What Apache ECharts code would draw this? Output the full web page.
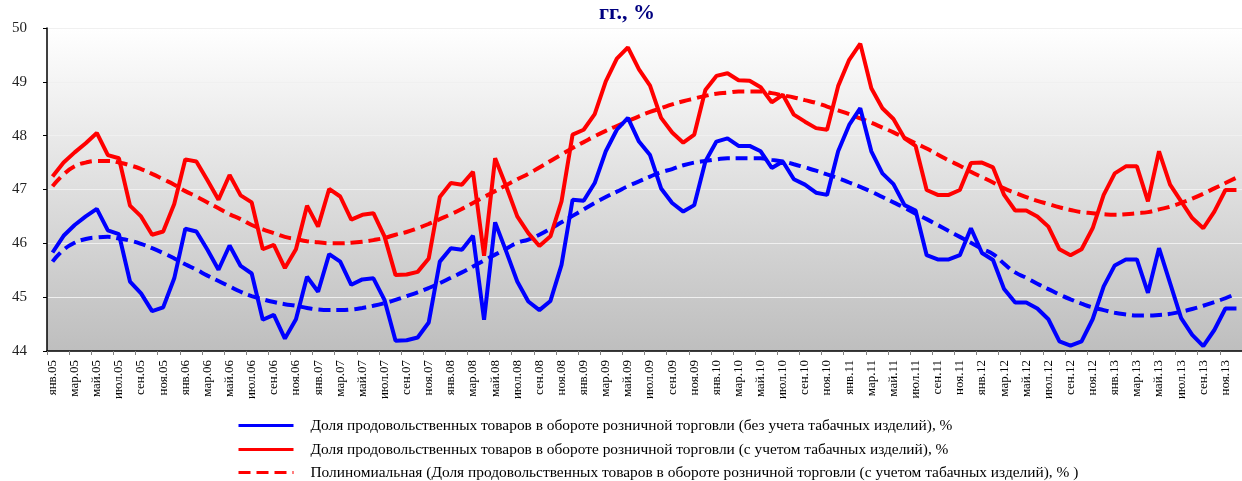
<!DOCTYPE html>
<html>
<head>
<meta charset="utf-8">
<script src="https://cdn.jsdelivr.net/npm/echarts@6/dist/echarts.min.js"></script>
<style>
html,body{margin:0;padding:0;background:#fff;}
#chart{width:1242px;height:481px;}
</style>
</head>
<body>
<div id="chart"></div>
<script>
// ---- data ----
var monthNames = ['янв','фев','мар','апр','май','июн','июл','авг','сен','окт','ноя','дек'];
var years = ['05','06','07','08','09','10','11','12','13'];
var categories = [];
years.forEach(function(y){ monthNames.forEach(function(m){ categories.push(m + '.' + y); }); });

var yTicks = [44, 45, 46, 47, 48, 49, 50];

var seriesNames = [
  'Доля продовольственных товаров в обороте розничной торговли (без учета табачных изделий), %',
  'Доля продовольственных товаров в обороте розничной торговли (с учетом табачных изделий), %',
  'Полиномиальная (Доля продовольственных товаров в обороте розничной торговли (с учетом табачных изделий), % )',
  'Полиномиальная (Доля продовольственных товаров в обороте розничной торговли (без учета табачных изделий), % )'
];

var withoutTobacco = [
  45.83, 46.14, 46.34, 46.50, 46.64, 46.24, 46.17, 45.29, 45.07, 44.74, 44.81, 45.35,
  46.27, 46.22, 45.88, 45.51, 45.96, 45.58, 45.44, 44.58, 44.67, 44.23, 44.59, 45.38,
  45.10, 45.80, 45.66, 45.23, 45.33, 45.35, 44.95, 44.19, 44.20, 44.25, 44.53, 45.66,
  45.91, 45.88, 46.14, 44.58, 46.39, 45.85, 45.29, 44.92, 44.76, 44.93, 45.60, 46.81,
  46.79, 47.12, 47.71, 48.11, 48.33, 47.89, 47.64, 47.02, 46.75, 46.59, 46.71, 47.52,
  47.89, 47.95, 47.81, 47.81, 47.71, 47.40, 47.52, 47.19, 47.09, 46.94, 46.90, 47.71,
  48.20, 48.51, 47.71, 47.30, 47.10, 46.71, 46.61, 45.78, 45.70, 45.70, 45.78, 46.28,
  45.82, 45.69, 45.15, 44.90, 44.90, 44.79, 44.59, 44.18, 44.10, 44.18, 44.59, 45.20,
  45.59, 45.70, 45.70, 45.08, 45.91, 45.26, 44.61, 44.30, 44.09, 44.39, 44.79, 44.79
];

var withTobacco = [
  47.24, 47.50, 47.69, 47.86, 48.05, 47.64, 47.58, 46.70, 46.50, 46.16, 46.22, 46.73,
  47.56, 47.52, 47.17, 46.81, 47.27, 46.89, 46.76, 45.89, 45.97, 45.54, 45.89, 46.70,
  46.31, 47.01, 46.87, 46.44, 46.53, 46.56, 46.13, 45.41, 45.42, 45.47, 45.72, 46.86,
  47.12, 47.09, 47.33, 45.77, 47.58, 47.06, 46.50, 46.19, 45.95, 46.13, 46.78, 48.02,
  48.11, 48.40, 49.01, 49.43, 49.64, 49.23, 48.93, 48.33, 48.06, 47.87, 48.02, 48.85,
  49.11, 49.16, 49.03, 49.02, 48.90, 48.62, 48.76, 48.39, 48.26, 48.14, 48.11, 48.92,
  49.41, 49.71, 48.88, 48.51, 48.31, 47.95, 47.81, 46.99, 46.90, 46.90, 46.99, 47.49,
  47.50, 47.41, 46.90, 46.61, 46.61, 46.50, 46.31, 45.89, 45.78, 45.89, 46.28, 46.90,
  47.30, 47.43, 47.43, 46.78, 47.71, 47.09, 46.78, 46.47, 46.28, 46.59, 46.99, 46.99
];

var trendWithTobacco = [
  47.06, 47.28, 47.43, 47.50, 47.53, 47.53, 47.50, 47.45, 47.38, 47.29, 47.19, 47.09,
  46.97, 46.87, 46.76, 46.65, 46.54, 46.45, 46.34, 46.26, 46.19, 46.12, 46.08, 46.04,
  46.02, 46.00, 46.00, 46.01, 46.03, 46.06, 46.10, 46.16, 46.21, 46.28, 46.36, 46.45,
  46.54, 46.64, 46.75, 46.86, 46.97, 47.08, 47.19, 47.29, 47.41, 47.53, 47.65, 47.77,
  47.88, 47.99, 48.09, 48.18, 48.27, 48.36, 48.44, 48.51, 48.58, 48.64, 48.69, 48.74,
  48.78, 48.80, 48.82, 48.82, 48.82, 48.79, 48.75, 48.71, 48.66, 48.61, 48.54, 48.47,
  48.40, 48.32, 48.24, 48.15, 48.06, 47.96, 47.86, 47.76, 47.65, 47.54, 47.44, 47.33,
  47.23, 47.13, 47.02, 46.94, 46.86, 46.79, 46.73, 46.67, 46.62, 46.58, 46.56, 46.54,
  46.53, 46.54, 46.56, 46.58, 46.63, 46.68, 46.75, 46.83, 46.92, 47.02, 47.12, 47.22
];

var trendWithoutTobacco = [
  45.66, 45.88, 46.01, 46.08, 46.11, 46.12, 46.09, 46.05, 45.99, 45.91, 45.82, 45.72,
  45.61, 45.51, 45.40, 45.30, 45.20, 45.10, 45.02, 44.96, 44.91, 44.87, 44.84, 44.80,
  44.77, 44.76, 44.76, 44.77, 44.80, 44.84, 44.89, 44.95, 45.02, 45.09, 45.17, 45.26,
  45.36, 45.46, 45.57, 45.68, 45.79, 45.90, 46.01, 46.07, 46.16, 46.27, 46.39, 46.51,
  46.63, 46.75, 46.86, 46.96, 47.06, 47.15, 47.24, 47.32, 47.38, 47.45, 47.50, 47.53,
  47.56, 47.58, 47.58, 47.58, 47.58, 47.55, 47.52, 47.47, 47.41, 47.35, 47.28, 47.21,
  47.13, 47.05, 46.96, 46.86, 46.76, 46.66, 46.55, 46.45, 46.34, 46.23, 46.12, 46.01,
  45.90, 45.80, 45.62, 45.46, 45.36, 45.25, 45.15, 45.05, 44.96, 44.88, 44.81, 44.76,
  44.71, 44.68, 44.66, 44.66, 44.67, 44.69, 44.73, 44.78, 44.84, 44.91, 44.98, 45.07
];

var titleLine1 = 'Доля продовольственных товаров в обороте торговли в 2005-2013';
var titleLine2 = 'гг., %';

// ---- chart ----
var SERIF = '"Liberation Serif", "DejaVu Serif", serif';
var chart = echarts.init(document.getElementById('chart'), null, {renderer: 'canvas'});

function legendRow(name, top) {
  return {
    orient: 'horizontal', left: 237, top: top, padding: 0,
    itemWidth: 55, itemHeight: 13,
    data: [name],
    itemStyle: {opacity: 0},
    lineStyle: {width: 3},
    textStyle: {fontFamily: SERIF, fontSize: 15.4, color: '#000', padding: [0, 0, 0, 12]}
  };
}

var option = {
  animation: false,
  backgroundColor: '#ffffff',
  title: [
    {text: titleLine1, left: 'center', top: -24, padding: 0,
     textStyle: {fontFamily: SERIF, fontWeight: 'bold', fontSize: 22, color: '#000080'}},
    {text: titleLine2, left: 599, top: 2, padding: 0,
     textStyle: {fontFamily: SERIF, fontWeight: 'bold', fontSize: 22, color: '#000080'}}
  ],
  grid: {
    left: 47, top: 28, height: 323, width: 1202,
    show: true, borderWidth: 0,
    backgroundColor: new echarts.graphic.LinearGradient(0, 0, 0, 1, [
      {offset: 0, color: '#ffffff'},
      {offset: 1, color: '#bebebe'}
    ])
  },
  legend: [
    legendRow(seriesNames[0], 418),
    legendRow(seriesNames[1], 442),
    legendRow(seriesNames[2], 465)
  ],
  xAxis: {
    type: 'category', data: categories, boundaryGap: true,
    axisLine: {lineStyle: {color: '#000', width: 1.5}},
    axisTick: {show: true, interval: 1, length: 4, lineStyle: {color: '#808080'}},
    axisLabel: {interval: 1, rotate: 90, fontFamily: SERIF, fontSize: 13, color: '#000', margin: 9},
    splitLine: {show: false}
  },
  yAxis: {
    type: 'value', min: yTicks[0], max: yTicks[yTicks.length - 1], interval: 1,
    axisLine: {show: true, lineStyle: {color: '#000', width: 1.5}},
    axisTick: {show: true, length: 4, lineStyle: {color: '#000'}},
    axisLabel: {fontFamily: SERIF, fontSize: 15, color: '#222', margin: 20},
    splitLine: {show: true, lineStyle: {color: '#f0f0f0', width: 1.2}}
  },
  series: [
    {name: seriesNames[0], type: 'line', data: withoutTobacco, symbol: 'none',
     lineStyle: {color: '#0000ff', width: 4}, itemStyle: {color: '#0000ff'}, z: 4},
    {name: seriesNames[1], type: 'line', data: withTobacco, symbol: 'none',
     lineStyle: {color: '#ff0000', width: 4}, itemStyle: {color: '#ff0000'}, z: 4},
    {name: seriesNames[2], type: 'line', data: trendWithTobacco, symbol: 'none', smooth: true,
     lineStyle: {color: '#ff0000', width: 4, type: [12, 6]}, itemStyle: {color: '#ff0000'}, z: 3},
    {name: seriesNames[3], type: 'line', data: trendWithoutTobacco, symbol: 'none', smooth: true,
     lineStyle: {color: '#0000ff', width: 4, type: [12, 6]}, itemStyle: {color: '#0000ff'}, z: 3}
  ]
};
chart.setOption(option);
</script>
</body>
</html>
